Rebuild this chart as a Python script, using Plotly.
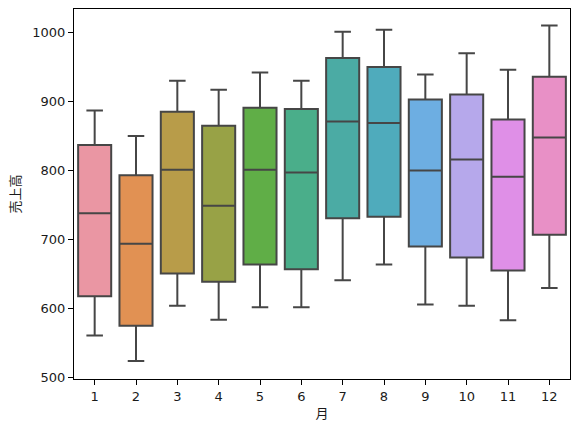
import math
import colorsys
import plotly.graph_objects as go

# 月ごとの売上高 (箱ひげ図の要約値、図から読み取り)
months = ["1", "2", "3", "4", "5", "6", "7", "8", "9", "10", "11", "12"]
lower = [561, 524, 604, 584, 602, 602, 641, 664, 606, 604, 583, 630]
q1 = [618, 575, 651, 639, 664, 657, 731, 733, 690, 674, 655, 707]
median = [738, 694, 801, 749, 801, 797, 871, 869, 800, 816, 791, 848]
q3 = [837, 793, 885, 865, 891, 889, 963, 950, 903, 910, 874, 936]
upper = [887, 850, 930, 917, 942, 930, 1001, 1004, 939, 970, 946, 1010]

# --- seaborn風の配色 (husl_palette(12, l=.7) + saturation .75) ---
M = [[3.2406, -1.5372, -0.4986],
     [-0.9689, 1.8758, 0.0415],
     [0.0557, -0.2040, 1.0570]]
REF_U, REF_V = 0.19784, 0.46834

def max_chroma(L, H):
    hrad = math.radians(H)
    sinH, cosH = math.sin(hrad), math.cos(hrad)
    sub1 = (L + 16) ** 3 / 1560896.0
    sub2 = sub1 if sub1 > 0.008856 else L / 903.3
    result = float("inf")
    for m1, m2, m3 in M:
        top = (0.99915 * m1 + 1.05122 * m2 + 1.14460 * m3) * sub2
        rbottom = 0.86330 * m3 - 0.17266 * m2
        lbottom = 0.12949 * m3 - 0.38848 * m1
        bottom = (rbottom * sinH + lbottom * cosH) * sub2
        for t in (0.0, 1.0):
            C = L * (top - 1.05122 * t) / (bottom + 0.17266 * sinH * t)
            if 0.0 < C < result:
                result = C
    return result

def husl_to_rgb(H, S, L):
    C = max_chroma(L, H) / 100.0 * S
    U, V = math.cos(math.radians(H)) * C, math.sin(math.radians(H)) * C
    t = (L + 16) / 116.0
    Y = t ** 3 if t ** 3 > 0.008856 else (116 * t - 16) / 903.3
    vu = U / (13 * L) + REF_U
    vv = V / (13 * L) + REF_V
    X = -(9 * Y * vu) / ((vu - 4) * vv - vu * vv)
    Z = (9 * Y - 15 * vv * Y - vv * X) / (3 * vv)
    out = []
    for row in M:
        c = row[0] * X + row[1] * Y + row[2] * Z
        c = 12.92 * c if c <= 0.0031308 else 1.055 * c ** (1 / 2.4) - 0.055
        out.append(min(max(c, 0.0), 1.0))
    return out

def palette(n, h=.01, s=.9, l=.7):
    hues = [((i / n + h) % 1) * 359 for i in range(n)]
    return [husl_to_rgb(hh, s * 99, l * 99) for hh in hues]

def desat(rgb, prop=0.75):
    hh, ll, ss = colorsys.rgb_to_hls(*rgb)
    return colorsys.hls_to_rgb(hh, ll, ss * prop)

def to_hex(rgb):
    return "#%02x%02x%02x" % tuple(round(c * 255) for c in rgb)

rgb_cols = [desat(c) for c in palette(len(months))]
colors = [to_hex(c) for c in rgb_cols]
lum = min(colorsys.rgb_to_hls(*c)[1] for c in rgb_cols) * .6
edge = to_hex((lum, lum, lum))

fig = go.Figure()
for i, m in enumerate(months):
    fig.add_trace(go.Box(
        x=[m], q1=[q1[i]], median=[median[i]], q3=[q3[i]],
        lowerfence=[lower[i]], upperfence=[upper[i]],
        name=m, fillcolor=colors[i], line=dict(color=edge, width=2),
        width=0.8, whiskerwidth=0.5, boxpoints=False, hoverinfo="skip",
    ))

font = dict(family="DejaVu Sans, Noto Sans CJK JP", size=13, color="#1a1a1a")
fig.update_layout(
    width=579, height=432,
    margin=dict(l=74, r=9, t=9, b=53, autoexpand=False),
    paper_bgcolor="white", plot_bgcolor="white",
    showlegend=False, font=font,
)
fig.update_xaxes(
    type="category", categoryorder="array", categoryarray=months,
    range=[-0.5, 11.5], showgrid=False, zeroline=False,
    showline=True, linecolor="black", linewidth=1, mirror=True,
    ticks="outside", ticklen=5, tickcolor="black",
    title=dict(text="月", standoff=6, font=font),
)
fig.update_yaxes(
    range=[498, 1034], tickvals=[500, 600, 700, 800, 900, 1000],
    showgrid=False, zeroline=False,
    showline=True, linecolor="black", linewidth=1, mirror=True,
    ticks="outside", ticklen=5, tickcolor="black",
    title=dict(text="売上高", standoff=8, font=font),
)

fig.write_html("out.html", config={"displayModeBar": False},
               post_script="document.body.style.margin='0';")
